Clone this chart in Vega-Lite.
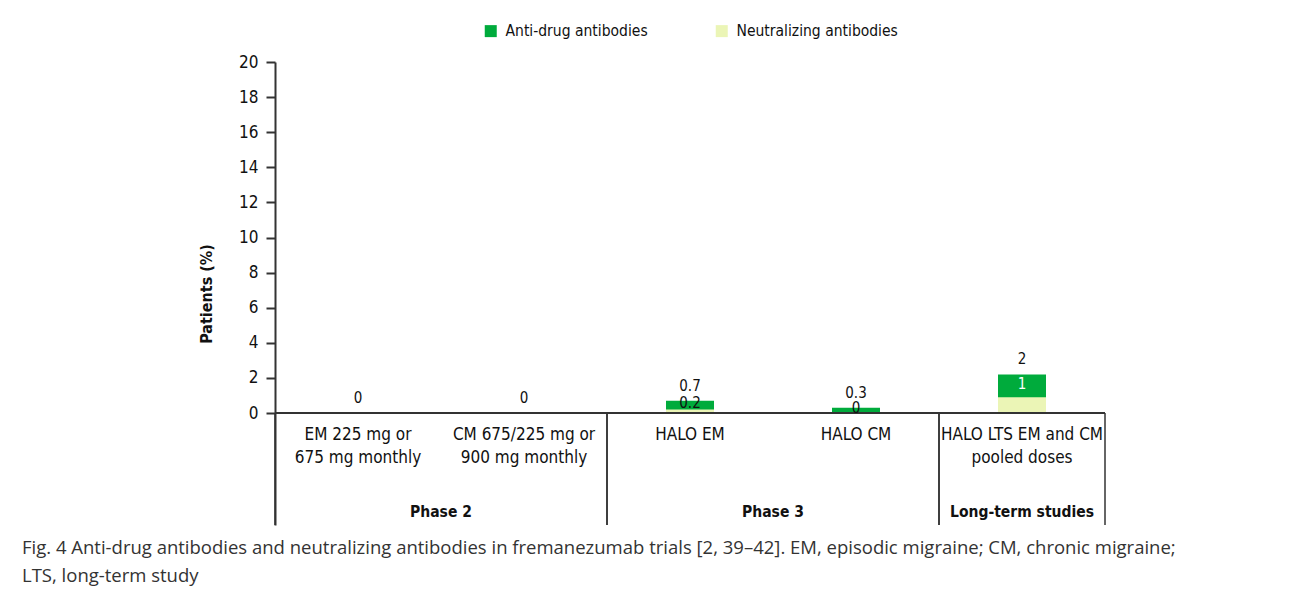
{
  "$schema": "https://vega.github.io/schema/vega-lite/v6.json",
  "width": 830,
  "height": 463,
  "autosize": {"type": "none"},
  "padding": {"left": 275, "top": 62, "right": 187, "bottom": 72},
  "background": "white",
  "config": {
    "font": "Liberation Sans Narrow, DejaVu Sans Condensed, Roboto Condensed, sans-serif",
    "view": {"stroke": null},
    "legend": {"layout": {"top": {"anchor": "middle"}}}
  },
  "title": {
    "text": ["Fig. 4 Anti-drug antibodies and neutralizing antibodies in fremanezumab trials [2, 39–42]. EM, episodic migraine; CM, chronic migraine;", "LTS, long-term study"],
    "orient": "bottom",
    "anchor": "start",
    "frame": "group",
    "dx": -253,
    "offset": 13,
    "font": "Open Sans",
    "fontSize": 18.5,
    "fontWeight": "normal",
    "color": "#333333",
    "lineHeight": 28
  },
  "data": {
    "values": [
      {"category": "EM 225 mg or\n675 mg monthly", "group": "Phase 2", "ada": 0, "nab": null, "adaLabel": "0", "nabLabel": null},
      {"category": "CM 675/225 mg or\n900 mg monthly", "group": "Phase 2", "ada": 0, "nab": null, "adaLabel": "0", "nabLabel": null},
      {"category": "HALO EM", "group": "Phase 3", "ada": 0.7, "nab": 0.2, "adaLabel": "0.7", "nabLabel": "0.2"},
      {"category": "HALO CM", "group": "Phase 3", "ada": 0.3, "nab": 0, "adaLabel": "0.3", "nabLabel": "0"},
      {"category": "HALO LTS EM and CM\npooled doses", "group": "Long-term studies", "ada": 2.2, "nab": 0.9, "adaLabel": "2", "nabLabel": "1"}
    ]
  },
  "transform": [
    {"window": [{"op": "row_number", "as": "rn"}, {"op": "count", "as": "n"}], "groupby": ["group"], "frame": [null, null]},
    {"calculate": "isValid(datum.nab) ? (datum.ada + datum.nab) / 2 : null", "as": "mid"}
  ],
  "layer": [
    {
      "transform": [
        {"fold": ["ada", "nab"], "as": ["key", "value"]},
        {"filter": "isValid(datum.value)"},
        {"calculate": "datum.key == 'ada' ? 'Anti-drug antibodies' : 'Neutralizing antibodies'", "as": "series"}
      ],
      "mark": {"type": "bar", "size": 48},
      "encoding": {
        "x": {
          "field": "category", "type": "nominal", "sort": null,
          "scale": {"paddingInner": 0, "paddingOuter": 0},
          "axis": {
            "title": null, "orient": "bottom", "offset": -112, "domain": false, "ticks": false,
            "labelAngle": 0, "labelExpr": "split(datum.label, '\\n')", "labelFontSize": 17,
            "labelLineHeight": 23, "labelPadding": 13, "labelColor": "#111111", "labelLimit": 0
          }
        },
        "y": {
          "field": "value", "type": "quantitative", "stack": null, "title": "Patients (%)",
          "scale": {"domain": [-6.38, 20], "nice": false, "zero": false},
          "axis": {
            "values": [0, 2, 4, 6, 8, 10, 12, 14, 16, 18, 20], "grid": false,
            "titleFontSize": 16, "titleFontWeight": "bold", "titleColor": "#111111", "titlePadding": 24,
            "labelFontSize": 17, "labelColor": "#111111", "labelPadding": 8,
            "tickSize": 9, "tickWidth": 2, "tickColor": "#333333",
            "domainWidth": 2, "domainColor": "#333333"
          }
        },
        "color": {
          "field": "series", "type": "nominal",
          "scale": {"domain": ["Anti-drug antibodies", "Neutralizing antibodies"], "range": ["#00AB3C", "#EBF5B6"]},
          "legend": {
            "title": null, "orient": "top", "direction": "horizontal", "symbolType": "square",
            "symbolSize": 144, "symbolStrokeWidth": 0, "labelFontSize": 15.5, "labelColor": "#111111",
            "labelOffset": 7, "columnPadding": 66, "offset": 22, "labelLimit": 0
          }
        },
        "order": {"field": "key", "type": "nominal"}
      }
    },
    {
      "mark": {"type": "rule", "color": "#333333", "strokeWidth": 2},
      "encoding": {
        "y": {"datum": 0, "type": "quantitative", "title": "Patients (%)"}
      }
    },
    {
      "transform": [{"filter": "datum.rn == 1"}],
      "mark": {"type": "rule", "color": "#333333", "strokeWidth": 1.5},
      "encoding": {
        "x": {"field": "category", "type": "nominal", "sort": null, "bandPosition": 0, "title": null},
        "y": {"datum": 0, "type": "quantitative", "title": "Patients (%)"},
        "y2": {"datum": -6.38}
      }
    },
    {
      "transform": [{"filter": "datum.rn == datum.n"}],
      "mark": {"type": "rule", "color": "#333333", "strokeWidth": 1.5},
      "encoding": {
        "x": {"field": "category", "type": "nominal", "sort": null, "bandPosition": 1, "title": null},
        "y": {"datum": 0, "type": "quantitative", "title": "Patients (%)"},
        "y2": {"datum": -6.38}
      }
    },
    {
      "mark": {"type": "text", "fontSize": 15, "baseline": "middle", "dy": -15, "color": "#111111"},
      "encoding": {
        "x": {"field": "category", "type": "nominal", "sort": null, "title": null},
        "y": {"field": "ada", "type": "quantitative", "title": "Patients (%)"},
        "text": {"field": "adaLabel"}
      }
    },
    {
      "transform": [{"filter": "isValid(datum.nabLabel)"}],
      "mark": {"type": "text", "fontSize": 15, "baseline": "middle", "dy": -2},
      "encoding": {
        "x": {"field": "category", "type": "nominal", "sort": null, "title": null},
        "y": {"field": "mid", "type": "quantitative", "title": "Patients (%)"},
        "text": {"field": "nabLabel"},
        "color": {"condition": {"test": "datum.ada - datum.nab > 1", "value": "white"}, "value": "#111111"}
      }
    },
    {
      "transform": [{"filter": "datum.n == 2 && datum.rn == 1"}],
      "mark": {"type": "text", "fontSize": 15.5, "fontWeight": "bold", "baseline": "middle", "color": "#111111"},
      "encoding": {
        "x": {"field": "category", "type": "nominal", "sort": null, "bandPosition": 1, "title": null},
        "y": {"datum": -5.64, "type": "quantitative", "title": "Patients (%)"},
        "text": {"field": "group"}
      }
    },
    {
      "transform": [{"filter": "datum.n == 1"}],
      "mark": {"type": "text", "fontSize": 15.5, "fontWeight": "bold", "baseline": "middle", "color": "#111111"},
      "encoding": {
        "x": {"field": "category", "type": "nominal", "sort": null, "bandPosition": 0.5, "title": null},
        "y": {"datum": -5.64, "type": "quantitative", "title": "Patients (%)"},
        "text": {"field": "group"}
      }
    }
  ]
}
